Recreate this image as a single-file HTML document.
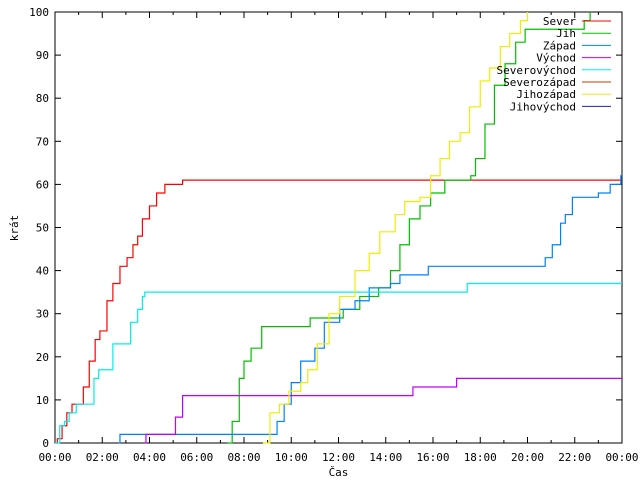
<!DOCTYPE html>
<html><head><meta charset="utf-8"><style>
body{margin:0;background:#fff}
text{font-family:"DejaVu Sans Mono","Liberation Mono",monospace;font-size:11px;fill:#000}
</style></head><body>
<svg id="chart" width="640" height="480" xmlns="http://www.w3.org/2000/svg">
<rect width="640" height="480" fill="#fff"/>
<g id="grid"></g>
<g id="series"></g>
<g id="legend"></g>
</svg>
<script>
const seriesNames=["Sever","Jih","Západ","Východ","Severovýchod","Severozápad","Jihozápad","Jihovýchod"];
const seriesColors=["#ff0000","#00c000","#0080ff","#c000ff","#00eeee","#c04000","#eeee00","#2020c0"];
const sever=[[0,0],[0.1,1],[0.3,4],[0.5,7],[0.72,9],[1.0,9],[1.2,13],[1.45,19],[1.7,24],[1.9,26],[2.2,33],[2.45,37],[2.75,41],[3.05,43],[3.3,46],[3.5,48],[3.7,52],[4.0,55],[4.3,58],[4.65,60],[5.4,61]];
const jih=[[7.3,0],[7.5,5],[7.8,15],[8.0,19],[8.3,22],[8.75,27],[10.8,29],[12.2,31],[12.9,34],[13.7,36],[14.2,40],[14.6,46],[15.0,52],[15.45,55],[15.9,58],[16.5,61],[17.6,62],[17.8,66],[18.2,74],[18.6,83],[19.05,88],[19.5,93],[19.9,96],[21.4,96],[22.4,98],[22.65,100]];
const zapad=[[2.7,0],[2.75,2],[9.1,2],[9.4,5],[9.7,9],[10.0,14],[10.4,19],[11.0,22],[11.4,28],[12.05,31],[12.7,33],[13.3,36],[14.2,37],[14.6,39],[15.8,41],[20.75,43],[21.05,46],[21.4,51],[21.6,53],[21.9,57],[23.0,58],[23.5,60],[23.95,62]];
const vychod=[[3.8,0],[3.85,2],[4.85,2],[5.1,6],[5.4,11],[15.15,13],[17.0,15],[24,15]];
const severovychod=[[0,0],[0.2,4],[0.4,5],[0.6,7],[0.9,9],[1.5,9],[1.65,15],[1.85,17],[2.2,17],[2.45,23],[2.9,23],[3.2,28],[3.5,31],[3.7,34],[3.8,35],[17.45,37],[24,37]];
const severozapad=[];
const jihozapad=[[8.8,0],[9.1,7],[9.5,9],[9.9,12],[10.4,14],[10.7,17],[11.1,23],[11.6,30],[12.05,34],[12.7,40],[13.3,44],[13.75,49],[14.4,53],[14.8,56],[15.45,57],[15.9,62],[16.3,66],[16.7,70],[17.15,72],[17.55,78],[18.0,84],[18.4,87],[18.85,92],[19.25,95],[19.7,98],[20.0,100]];
const jihovychod=[];
const xTicks=["00:00","02:00","04:00","06:00","08:00","10:00","12:00","14:00","16:00","18:00","20:00","22:00","00:00"];
const yTicks=[0,10,20,30,40,50,60,70,80,90,100];
// visible plotted colours per series (Sever red, Jih green, Západ blue, Východ magenta, Severovýchod cyan, Jihozápad yellow)
const allSeries=[sever,jih,zapad,vychod,severovychod,severozapad,jihozapad,jihovychod];

const L=55,R=622,T=12,B=443;
const xs=h=>L+h/24*(R-L);
const ys=v=>B-v/100*(B-T);
const NS="http://www.w3.org/2000/svg";
function mk(tag,attrs,parent,txt){const e=document.createElementNS(NS,tag);for(const k in attrs)e.setAttribute(k,attrs[k]);if(txt!==undefined)e.textContent=txt;parent.appendChild(e);return e;}
const grid=document.getElementById('grid');
for(let i=0;i<yTicks.length;i++){
  const y=ys(yTicks[i]);
  mk('line',{x1:L,x2:L+6,y1:y,y2:y,stroke:'#000'},grid);
  mk('line',{x1:R,x2:R-6,y1:y,y2:y,stroke:'#000'},grid);
  const t=mk('text',{x:L-6,y:y+4,'text-anchor':'end'},grid,yTicks[i]);
  
  
}
for(let h=0;h<=24;h++){
  const x=xs(h);const len=h%2===0?6:3;
  mk('line',{x1:x,x2:x,y1:B,y2:B-len,stroke:'#000'},grid);
  mk('line',{x1:x,x2:x,y1:T,y2:T+len,stroke:'#000'},grid);
}
for(let i=0;i<xTicks.length;i++){
  const t=mk('text',{x:xs(i*2),y:B+18,'text-anchor':'middle'},grid,xTicks[i]);
  
  
}
const frame=mk('rect',{x:L,y:T,width:R-L,height:B-T,fill:'none',stroke:'#000'},grid);


const xl=mk('text',{x:(L+R)/2,y:476,'text-anchor':'middle'},grid,'Čas');


const yl=mk('text',{x:18,y:228,'text-anchor':'middle',transform:'rotate(-90 18 228)'},grid,'krát');



const sg=document.getElementById('series');
allSeries.forEach((d,i)=>{
  if(!d.length)return;
  let p='M'+xs(d[0][0])+','+ys(d[0][1]);
  for(let j=1;j<d.length;j++){p+=' H'+xs(d[j][0])+' V'+ys(d[j][1]);}
  if(d[d.length-1][0]<24 && d[d.length-1][1]<100) p+=' H'+R;
  const e=mk('path',{d:p,fill:'none',stroke:seriesColors[i],'stroke-width':1.2},sg);
  
  
});
const lg=document.getElementById('legend');
seriesNames.forEach((n,i)=>{
  const y=21+i*12.2;
  const t=mk('text',{x:576,y:y+4,'text-anchor':'end'},lg,n);
  
  
  mk('line',{x1:582,x2:611,y1:y,y2:y,stroke:seriesColors[i]},lg);
});
</script>
</body></html>
